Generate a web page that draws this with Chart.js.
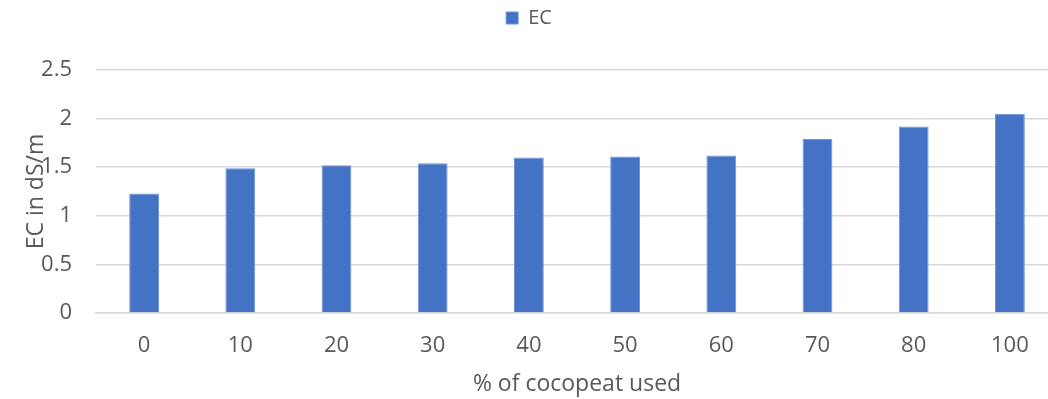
<!DOCTYPE html>
<html><head><meta charset="utf-8">
<script src="https://cdn.jsdelivr.net/npm/chart.js@4"></script>
<style>html,body{margin:0;padding:0;overflow:hidden;background:#fff}#w{width:1060px;height:399px}</style>
</head><body><div id="w"><canvas id="c"></canvas></div>
<script>
const categories = ["0","10","20","30","40","50","60","70","80","100"];
const ecValues = [1.23, 1.49, 1.52, 1.54, 1.60, 1.61, 1.62, 1.79, 1.92, 2.05];
const seriesName = "EC";
const xTitle = "% of cocopeat used";
const yTitle = "EC in dS/m";
const FONT = "'Open Sans', sans-serif";
const TXT = '#595959';
const legendGap = {
  id: 'legendGap',
  beforeInit(chart) {
    const f = chart.legend.fit;
    chart.legend.fit = function () { f.bind(chart.legend)(); this.height += 32; };
  }
};
new Chart(document.getElementById('c'), {
  type: 'bar',
  data: { labels: categories, datasets: [{ label: seriesName, data: ecValues, backgroundColor: '#4472c4', borderColor: '#6f95d6', borderWidth: 1, barPercentage: 0.31, categoryPercentage: 1 }] },
  options: {
    responsive: true, maintainAspectRatio: false, animation: false,
    layout: { padding: { top: 0, right: 2, left: 0, bottom: 1 } },
    plugins: {
      legend: { position: 'top', labels: { boxWidth: 12, boxHeight: 12, color: TXT, font: { family: FONT, size: 20 }, padding: 8 } },
      tooltip: { enabled: false }
    },
    scales: {
      x: {
        grid: { display: false, drawTicks: false },
        border: { color: '#d9d9d9', width: 1.5 },
        ticks: { color: TXT, font: { family: FONT, size: 22 }, padding: 20 },
        title: { display: true, text: xTitle, color: TXT, font: { family: FONT, size: 23 }, padding: { top: 11, bottom: 0 } },
        afterFit: s => { s.height = 85; }
      },
      y: {
        min: 0, max: 2.5,
        grid: { color: '#d9d9d9', lineWidth: 1.5, drawTicks: false },
        border: { display: false },
        ticks: { stepSize: 0.5, color: TXT, font: { family: FONT, size: 22 }, padding: 24, callback: v => String(v) },
        title: { display: true, text: yTitle, color: TXT, font: { family: FONT, size: 23 }, padding: { top: 23, bottom: 0 } },
        afterFit: s => { s.width = 96; }
      }
    }
  },
  plugins: [legendGap]
});
</script></body></html>
